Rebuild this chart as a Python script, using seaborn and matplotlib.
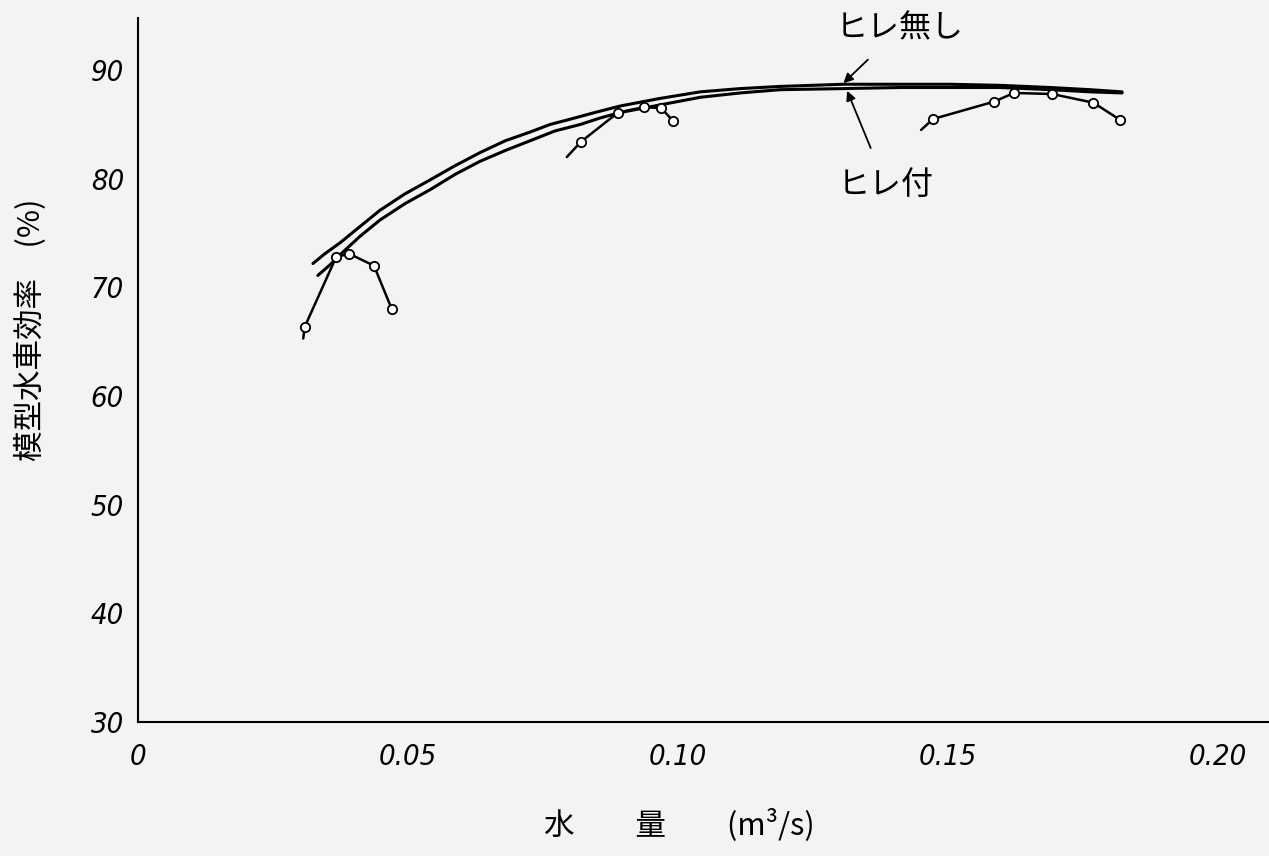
import matplotlib
matplotlib.use("Agg")
import matplotlib.pyplot as plt
import pandas as pd
import seaborn as sns

# main efficiency curves
no_fin_x = [0.0324, 0.0346, 0.0374, 0.0411, 0.0448, 0.0494, 0.0541, 0.0587, 0.0633,
            0.0680, 0.0726, 0.0763, 0.0794, 0.0846, 0.0893, 0.0967, 0.1041, 0.1115,
            0.1189, 0.1306, 0.1411, 0.1504, 0.1596, 0.1689, 0.1763, 0.1822]
no_fin_y = [72.2, 73.1, 74.1, 75.6, 77.1, 78.6, 79.9, 81.2, 82.4,
            83.5, 84.3, 85.0, 85.4, 86.1, 86.7, 87.4, 88.0, 88.3,
            88.5, 88.7, 88.7, 88.7, 88.6, 88.4, 88.2, 88.0]
fin_x = [0.0333, 0.0356, 0.0374, 0.0411, 0.0448, 0.0494, 0.0541, 0.0587, 0.0633,
         0.0680, 0.0726, 0.0772, 0.0819, 0.0856, 0.0893, 0.0967, 0.1041, 0.1115,
         0.1189, 0.1306, 0.1411, 0.1504, 0.1596, 0.1689, 0.1763, 0.1822]
fin_y = [71.1, 72.1, 73.0, 74.7, 76.2, 77.7, 79.0, 80.4, 81.6,
         82.6, 83.5, 84.4, 85.0, 85.6, 86.1, 86.8, 87.5, 87.9,
         88.2, 88.3, 88.4, 88.4, 88.4, 88.2, 88.0, 87.9]

# measured points for three openings (first entry = line start, no marker)
g1_x = [0.0306, 0.0309, 0.0367, 0.0391, 0.0437, 0.0470]
g1_y = [65.3, 66.4, 72.8, 73.1, 72.0, 68.0]
g2_x = [0.0794, 0.0820, 0.0889, 0.0937, 0.0969, 0.0991]
g2_y = [82.0, 83.4, 86.1, 86.6, 86.5, 85.3]
g3_x = [0.1450, 0.1472, 0.1585, 0.1622, 0.1693, 0.1769, 0.1819]
g3_y = [84.5, 85.5, 87.1, 87.9, 87.8, 87.0, 85.4]

x_ticks = [0, 0.05, 0.10, 0.15, 0.20]
x_tick_labels = ["0", "0.05", "0.10", "0.15", "0.20"]
y_ticks = [30, 40, 50, 60, 70, 80, 90]

sns.set_theme(style="white")
plt.rcParams['font.family'] = ['Noto Sans CJK JP', 'DejaVu Sans']

bg = '#f3f3f1'
fig = plt.figure(figsize=(12.69, 8.56), dpi=100, facecolor=bg)
ax = fig.add_axes([0.1087, 0.1565, 0.8913, 0.8225])
ax.set_facecolor(bg)

sns.lineplot(x=no_fin_x, y=no_fin_y, ax=ax, color='black', lw=2.2, sort=False, estimator=None)
sns.lineplot(x=fin_x, y=fin_y, ax=ax, color='black', lw=2.2, sort=False, estimator=None)

for gx, gy in [(g1_x, g1_y), (g2_x, g2_y), (g3_x, g3_y)]:
    sns.lineplot(x=gx, y=gy, ax=ax, color='black', lw=1.8, sort=False, estimator=None)
    sns.scatterplot(x=gx[1:], y=gy[1:], ax=ax, s=45, facecolor='white',
                    edgecolor='black', linewidth=1.3, zorder=5)

# annotations
ax.annotate('ヒレ無し', xy=(0.1306, 88.8), xytext=(0.1411, 93.8),
            fontsize=23, ha='center', va='center', color='black',
            arrowprops=dict(arrowstyle='-|>', color='black', lw=1.3,
                            mutation_scale=14, shrinkA=12, shrinkB=0))
ax.annotate('ヒレ付', xy=(0.1313, 88.1), xytext=(0.1385, 79.4),
            fontsize=23, ha='center', va='center', color='black',
            arrowprops=dict(arrowstyle='-|>', color='black', lw=1.3,
                            mutation_scale=14, shrinkA=14, shrinkB=0))

ax.set_xlim(0, 0.2094)
ax.set_ylim(30, 94.8)
ax.set_xticks(x_ticks)
ax.set_xticklabels(x_tick_labels)
ax.set_yticks(y_ticks)

for lab in ax.get_xticklabels() + ax.get_yticklabels():
    lab.set_family(['DejaVu Sans'])
    lab.set_stretch('condensed')
    lab.set_style('italic')
    lab.set_fontsize(21)

ax.tick_params(axis='both', direction='in', length=6, width=1.2, colors='black')
ax.tick_params(axis='y', pad=10)
ax.tick_params(axis='x', pad=15)

for side in ['top', 'right']:
    ax.spines[side].set_visible(False)
for side in ['left', 'bottom']:
    ax.spines[side].set_color('black')
    ax.spines[side].set_linewidth(1.5)

ax.set_ylabel('模型水車効率　(%)', fontsize=22, color='black')
ax.yaxis.set_label_coords(-0.0805, 0.557)
ax.set_xlabel('水　　量　　(m³/s)', fontsize=22, color='black')
ax.xaxis.set_label_coords(0.479, -0.122)

fig.savefig('out.png', dpi=100, facecolor=bg)
